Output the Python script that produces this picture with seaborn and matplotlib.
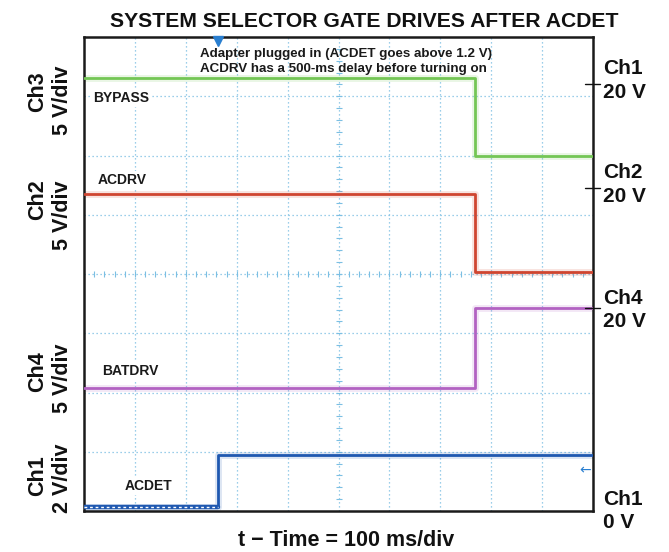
import numpy as np
import pandas as pd
import matplotlib
matplotlib.use("Agg")
import matplotlib.pyplot as plt
from matplotlib.lines import Line2D
import seaborn as sns

# Scope capture: time in ms (100 ms/div, 10 div), trace levels in screen divisions (8 div)
bypass_t = [0, 769, 1000]
bypass_v = [7.31, 5.99, 5.99]
acdrv_t = [0, 769, 1000]
acdrv_v = [5.35, 4.03, 4.03]
batdrv_t = [0, 769, 1000]
batdrv_v = [2.07, 3.42, 3.42]
acdet_t = [0, 264, 1000]
acdet_v = [0.06, 0.945, 0.945]
trigger_ms = 264

signal_names = ["BYPASS", "ACDRV", "BATDRV", "ACDET"]
palette = {"BYPASS": "#74c655", "ACDRV": "#cf4530", "BATDRV": "#b262c2", "ACDET": "#1f58b0"}

frames = []
for name, t, v in zip(signal_names,
                      [bypass_t, acdrv_t, batdrv_t, acdet_t],
                      [bypass_v, acdrv_v, batdrv_v, acdet_v]):
    frames.append(pd.DataFrame({"t": t, "level": v, "signal": name}))
df = pd.concat(frames, ignore_index=True)

W, H = 669, 552
sns.set_theme(style="white")
plt.rcParams["font.family"] = ["Liberation Sans", "DejaVu Sans"]

fig = plt.figure(figsize=(W / 100, H / 100), dpi=100)
fig.patch.set_facecolor("white")
ax = fig.add_axes([84 / W, 1 - 511 / H, 509 / W, 474 / H])


def fxy(px, py):
    return px / W, 1 - py / H


# graticule
grid_kw = dict(color="#7bbfe3", lw=0.9, ls=(0, (1, 2.2)), zorder=1)
for gx in range(100, 1000, 100):
    ax.axvline(gx, **grid_kw)
for gy in range(1, 8):
    ax.axhline(gy, **grid_kw)
minor_x = np.arange(0, 1001, 20)
minor_y = np.arange(0, 8.01, 0.2)
ax.plot(minor_x, np.full_like(minor_x, 4.0, dtype=float), ls="none", marker="|",
        ms=5, mew=0.8, color="#7bbfe3", zorder=1)
ax.plot(np.full_like(minor_y, 500.0), minor_y, ls="none", marker="_",
        ms=5, mew=0.8, color="#7bbfe3", zorder=1)

# soft glow under traces
sns.lineplot(data=df, x="t", y="level", hue="signal", palette=palette, ax=ax,
             drawstyle="steps-post", estimator=None, sort=False, legend=False,
             lw=5, alpha=0.15, zorder=2)
# traces
sns.lineplot(data=df, x="t", y="level", hue="signal", palette=palette, ax=ax,
             drawstyle="steps-post", estimator=None, sort=False, legend=False,
             lw=2.0, zorder=3)
# noisy low level of ACDET before the adapter is plugged in
ax.plot(acdet_t[:2], acdet_v[:1] * 2, color=palette["ACDET"], lw=3.2, zorder=4)
ax.plot(acdet_t[:2], acdet_v[:1] * 2, color="white", lw=1.0, ls=(0, (2, 2)), zorder=5)

# trigger position marker
ax.plot([trigger_ms], [7.93], marker="v", ms=7, color="#2a7fd0", clip_on=False, zorder=6)

ax.set_xlim(0, 1000)
ax.set_ylim(0, 8)
ax.set_xticks([])
ax.set_yticks([])
ax.set_xlabel("")
ax.set_ylabel("")
for sp in ax.spines.values():
    sp.set_color("#1a1a1a")
    sp.set_linewidth(1.8)
    sp.set_visible(True)

# title and time-base label
fig.text(*fxy(364, 27.3), "SYSTEM SELECTOR GATE DRIVES AFTER ACDET", ha="center",
         va="baseline", fontsize=15.2, fontweight="bold", color="#111111")
fig.text(*fxy(346, 546), "t \u2212 Time = 100 ms/div", ha="center", va="baseline",
         fontsize=15.5, fontweight="bold", color="#111111")

# annotation
fig.text(*fxy(200, 57), "Adapter plugged in (ACDET goes above 1.2 V)", ha="left",
         va="baseline", fontsize=9.6, fontweight="bold", color="#1a1a1a")
fig.text(*fxy(200, 72), "ACDRV has a 500-ms delay before turning on", ha="left",
         va="baseline", fontsize=9.6, fontweight="bold", color="#1a1a1a")

# trace names
box = dict(facecolor="white", edgecolor="none", pad=1.5)
for label, px, py in [("BYPASS", 93, 102), ("ACDRV", 98, 184),
                      ("BATDRV", 102, 375), ("ACDET", 125, 490)]:
    fig.text(*fxy(px, py), label, ha="left", va="baseline", fontsize=10,
             fontweight="bold", color="#1a1a1a", bbox=box, zorder=10)

# vertical scale labels
for ch, scale, y1, y2 in [("Ch3", "5 V/div", 92, 100), ("Ch2", "5 V/div", 200, 215),
                          ("Ch4", "5 V/div", 372, 378), ("Ch1", "2 V/div", 476, 478)]:
    fig.text(*fxy(43, y1), ch, rotation=90, rotation_mode="anchor", ha="center",
             va="baseline", fontsize=15.5, fontweight="bold", color="#111111")
    fig.text(*fxy(68, y2), scale, rotation=90, rotation_mode="anchor", ha="center",
             va="baseline", fontsize=15.5, fontweight="bold", color="#111111")

# right-hand channel reference labels
for ch, volts, yb1, yb2 in [("Ch1", "20 V", 74.3, 98), ("Ch2", "20 V", 178, 202),
                            ("Ch4", "20 V", 303.5, 327), ("Ch1", "0 V", 505, 528)]:
    fig.text(*fxy(603, yb1), ch, ha="left", va="baseline", fontsize=15,
             fontweight="bold", color="#111111")
    fig.text(*fxy(603, yb2), volts, ha="left", va="baseline", fontsize=15,
             fontweight="bold", color="#111111")
for py in [84, 188, 308]:
    x0, y0 = fxy(585, py)
    x1, _ = fxy(600, py)
    fig.add_artist(Line2D([x0, x1], [y0, y0], color="#111111", lw=1.0))

# ground reference arrow for Ch1
fig.text(*fxy(591, 470), "\u2190", ha="right", va="center", fontsize=10,
         color="#2a7fd0", family=["DejaVu Sans"])

fig.savefig("out.png", dpi=100, facecolor="white")
